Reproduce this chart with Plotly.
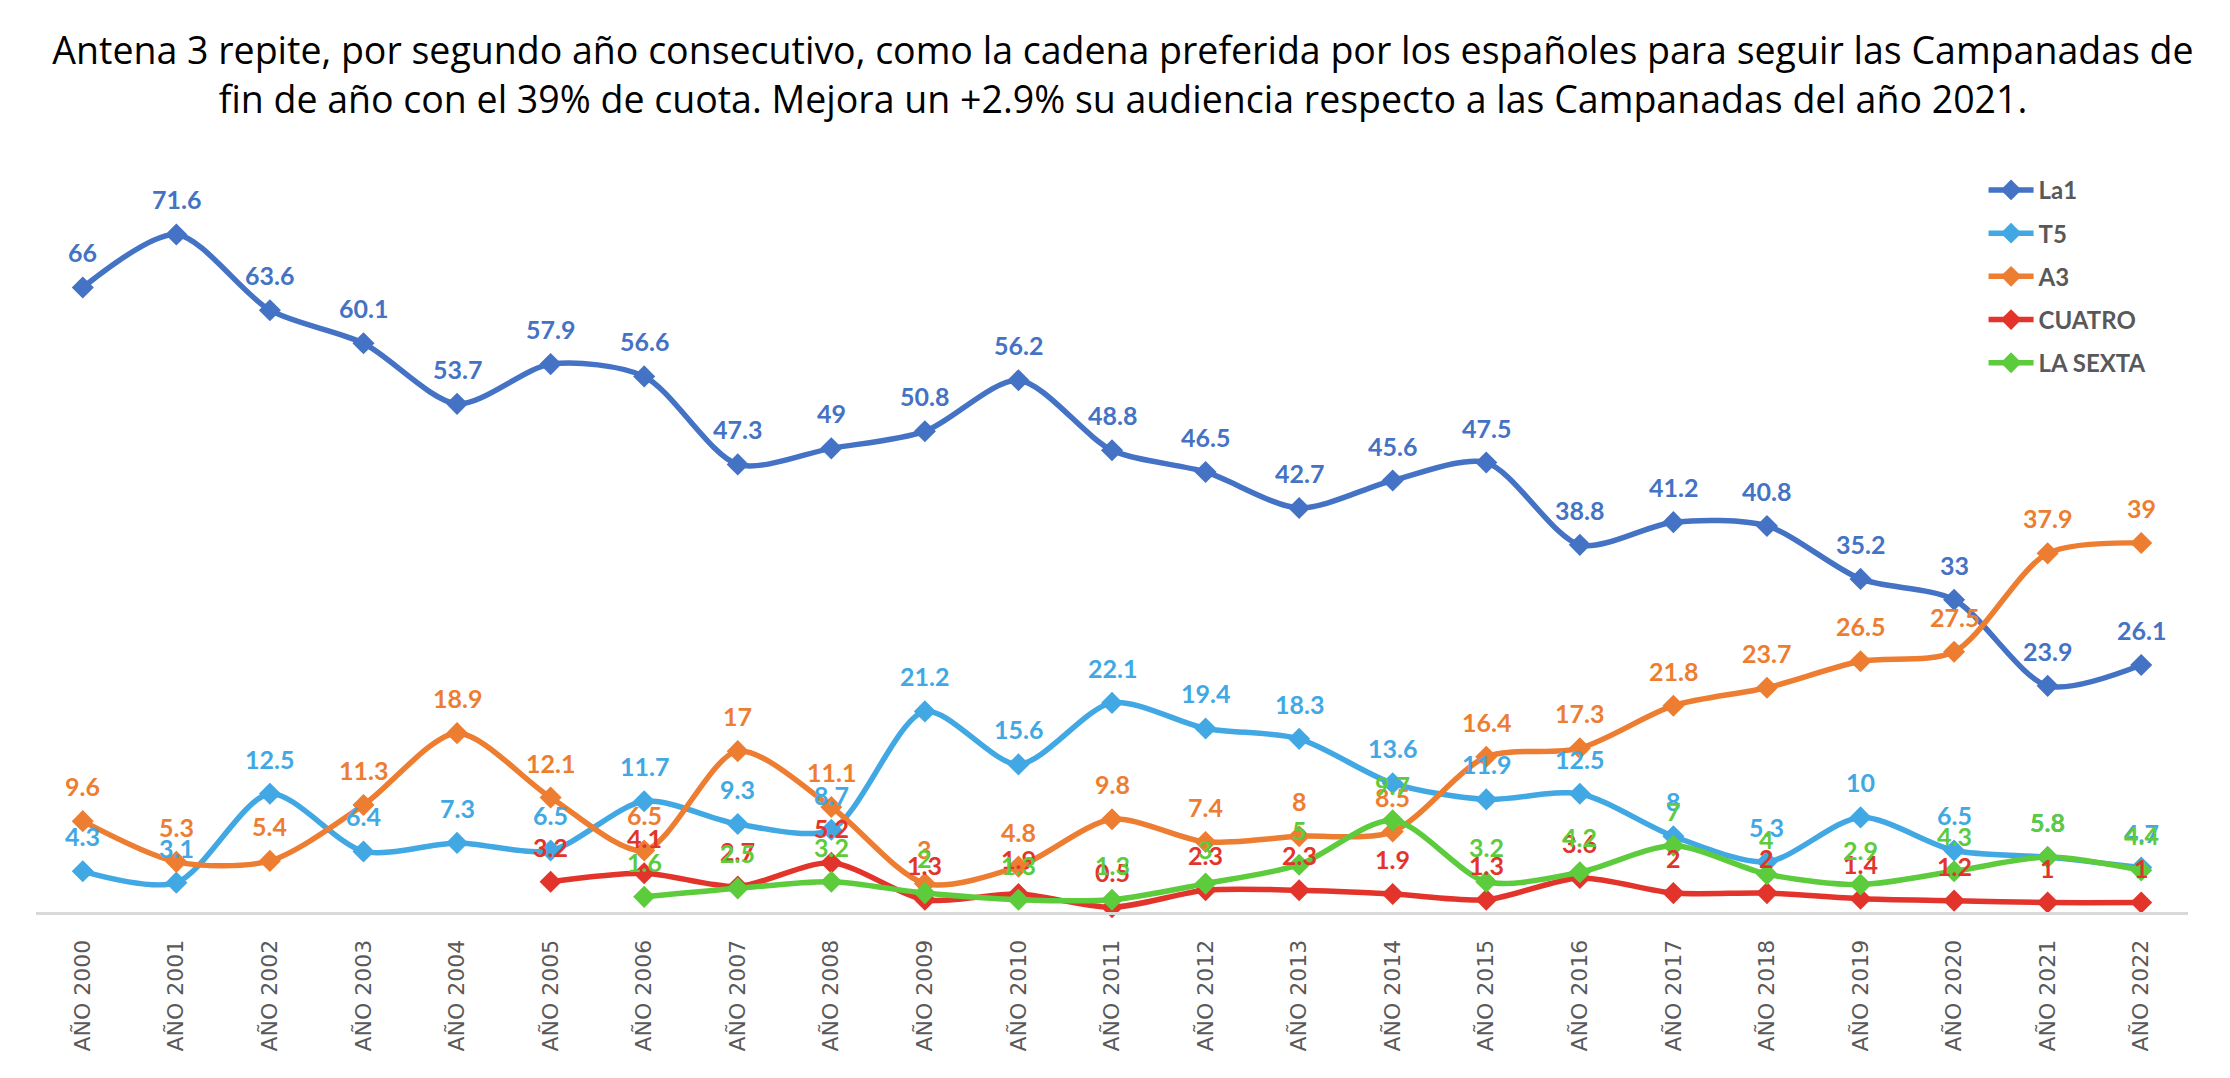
import plotly.graph_objects as go

years = ["AÑO %d" % y for y in range(2000, 2023)]

la1 = [66, 71.6, 63.6, 60.1, 53.7, 57.9, 56.6, 47.3, 49, 50.8, 56.2, 48.8, 46.5, 42.7,
       45.6, 47.5, 38.8, 41.2, 40.8, 35.2, 33, 23.9, 26.1]
t5 = [4.3, 3.1, 12.5, 6.4, 7.3, 6.5, 11.7, 9.3, 8.7, 21.2, 15.6, 22.1, 19.4, 18.3,
      13.6, 11.9, 12.5, 8, 5.3, 10, 6.5, 5.8, 4.7]
a3 = [9.6, 5.3, 5.4, 11.3, 18.9, 12.1, 6.5, 17, 11.1, 3, 4.8, 9.8, 7.4, 8,
      8.5, 16.4, 17.3, 21.8, 23.7, 26.5, 27.5, 37.9, 39]
cuatro = [None, None, None, None, None, 3.2, 4.1, 2.7, 5.2, 1.3, 1.9, 0.5, 2.3, 2.3,
          1.9, 1.3, 3.6, 2, 2, 1.4, 1.2, 1, 1]
lasexta = [None, None, None, None, None, None, 1.6, 2.5, 3.2, 2, 1.3, 1.3, 3, 5,
           9.7, 3.2, 4.2, 7, 4, 2.9, 4.3, 5.8, 4.4]

series = [
    ("La1", la1, "#4472C4"),
    ("T5", t5, "#41A8E4"),
    ("A3", a3, "#ED7D31"),
    ("CUATRO", cuatro, "#E2342B"),
    ("LA SEXTA", lasexta, "#5CCB3C"),
]

title = ("Antena 3 repite, por segundo año consecutivo, como la cadena preferida por los españoles para seguir las Campanadas de"
         "<br>fin de año con el 39% de cuota. Mejora un +2.9% su audiencia respecto a las Campanadas del año 2021.")

fig = go.Figure()
annotations = []
for name, vals, color in series:
    fig.add_trace(go.Scatter(
        x=years, y=vals, name=name, mode="lines+markers", legendgroup=name,
        line=dict(color=color, width=5.5, shape="spline", smoothing=0.8),
        marker=dict(symbol="diamond", size=17, color=color),
        cliponaxis=False,
    ))
    for xv, v in zip(years, vals):
        if v is None:
            continue
        annotations.append(dict(
            x=xv, y=v, xref="x", yref="y", text="%g" % v, showarrow=False,
            yshift=35, xanchor="center", yanchor="middle",
            font=dict(family="Lato", size=25, color=color, weight="bold"),
        ))

fig.update_layout(
    width=2230, height=1078,
    paper_bgcolor="white", plot_bgcolor="white",
    margin=dict(l=28, r=50, t=147, b=174),
    title=dict(text=title, x=0.5, xanchor="center", y=0.948, yanchor="middle",
               font=dict(family="Open Sans", size=37.5, color="black")),
    annotations=annotations,
    showlegend=True,
    legend=dict(x=0.905, y=0.983, xanchor="left", yanchor="top",
                font=dict(family="Lato", size=24, color="#595959", weight="bold"),
                tracegroupgap=9, itemwidth=45, bgcolor="rgba(0,0,0,0)"),
    xaxis=dict(type="category", range=[-0.5, 22.5], showgrid=False, showline=True,
               linecolor="#D9D9D9", linewidth=3, ticks="", tickangle=-90,
               tickfont=dict(family="DejaVu Sans", size=22, color="#595959"),
               ticklabelstandoff=16),
    yaxis=dict(range=[0, 80], visible=False, showgrid=False, zeroline=False),
)

fig.write_html("out.html")
